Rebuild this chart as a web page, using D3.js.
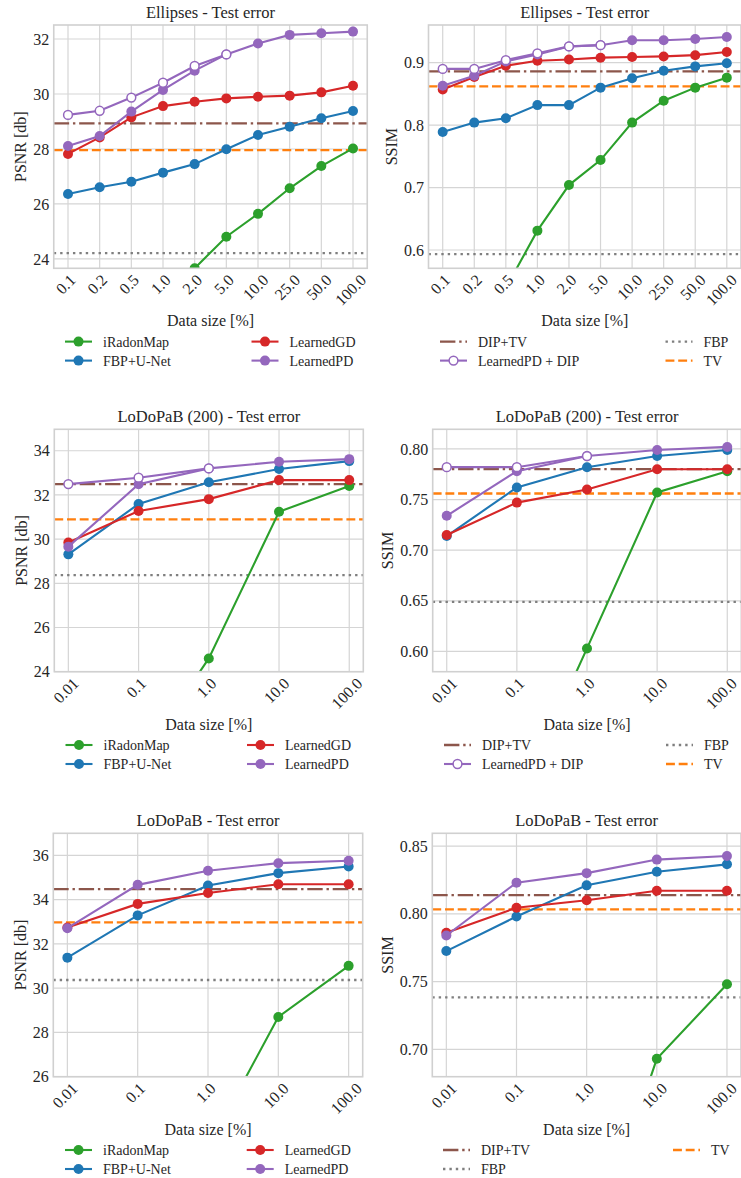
<!DOCTYPE html>
<html><head><meta charset="utf-8">
<script src="https://cdn.jsdelivr.net/npm/d3@7"></script>
<style>
body{margin:0;background:#fff}
text{font-family:"Liberation Serif","Times New Roman",serif;fill:#262626}
</style>
</head><body><svg id="chart" width="741" height="1178"></svg>
<script>
// ---------- DATA ----------
const sizesEllipses = ["0.1","0.2","0.5","1.0","2.0","5.0","10.0","25.0","50.0","100.0"];
const sizesLodopab = ["0.01","0.1","1.0","10.0","100.0"];

// Ellipses - PSNR
const ellPsnrIRadonMap = [null,null,null,null,23.66,24.81,25.64,26.57,27.38,28.02];
const ellPsnrFbpUnet   = [26.36,26.61,26.81,27.14,27.45,27.99,28.51,28.81,29.12,29.38];
const ellPsnrLearnedGD = [27.82,28.42,29.15,29.56,29.72,29.84,29.90,29.94,30.06,30.30];
const ellPsnrLearnedPD = [28.11,28.47,29.36,30.15,30.85,31.44,31.84,32.15,32.21,32.27];
const ellPsnrLpdDip    = [29.24,29.39,29.87,30.41,31.02,31.44];
const ellPsnrDipTv = 28.93, ellPsnrTv = 27.96, ellPsnrFbp = 24.21;

// Ellipses - SSIM
const ellSsimIRadonMap = [null,null,0.539,0.631,0.704,0.744,0.804,0.839,0.860,0.876];
const ellSsimFbpUnet   = [0.789,0.804,0.811,0.832,0.832,0.860,0.875,0.887,0.894,0.899];
const ellSsimLearnedGD = [0.857,0.877,0.895,0.903,0.905,0.908,0.909,0.910,0.912,0.917];
const ellSsimLearnedPD = [0.863,0.879,0.902,0.913,0.926,0.928,0.936,0.936,0.938,0.941];
const ellSsimLpdDip    = [0.890,0.890,0.904,0.915,0.926,0.928];
const ellSsimDipTv = 0.886, ellSsimTv = 0.862, ellSsimFbp = 0.5935;

// LoDoPaB (200) - PSNR
const lod200PsnrIRadonMap = [null,19.9,24.60,31.24,32.40];
const lod200PsnrFbpUnet   = [29.31,31.59,32.57,33.17,33.53];
const lod200PsnrLearnedGD = [29.85,31.27,31.81,32.67,32.67];
const lod200PsnrLearnedPD = [29.66,32.48,33.20,33.50,33.62];
const lod200PsnrLpdDip    = [32.49,32.78,33.20];
const lod200PsnrDipTv = 32.49, lod200PsnrTv = 30.89, lod200PsnrFbp = 28.37;

// LoDoPaB (200) - SSIM
const lod200SsimIRadonMap = [null,0.451,0.603,0.757,0.778];
const lod200SsimFbpUnet   = [0.714,0.762,0.782,0.793,0.799];
const lod200SsimLearnedGD = [0.715,0.747,0.760,0.780,0.780];
const lod200SsimLearnedPD = [0.734,0.778,0.793,0.799,0.802];
const lod200SsimLpdDip    = [0.782,0.782,0.793];
const lod200SsimDipTv = 0.780, lod200SsimTv = 0.756, lod200SsimFbp = 0.649;

// LoDoPaB - PSNR
const lodPsnrIRadonMap = [null,null,22.8,28.70,31.01];
const lodPsnrFbpUnet   = [31.38,33.29,34.64,35.20,35.50];
const lodPsnrLearnedGD = [32.74,33.81,34.30,34.70,34.70];
const lodPsnrLearnedPD = [32.71,34.67,35.31,35.65,35.76];
const lodPsnrDipTv = 34.48, lodPsnrTv = 32.97, lodPsnrFbp = 30.37;

// LoDoPaB - SSIM
const lodSsimIRadonMap = [null,null,0.54,0.693,0.748];
const lodSsimFbpUnet   = [0.7725,0.798,0.821,0.831,0.8365];
const lodSsimLearnedGD = [0.786,0.8045,0.810,0.817,0.817];
const lodSsimLearnedPD = [0.784,0.823,0.830,0.840,0.8426];
const lodSsimDipTv = 0.8138, lodSsimTv = 0.8033, lodSsimFbp = 0.7383;

const psnrTicks1 = [24,26,28,30,32];
const ssimTicks1 = [0.6,0.7,0.8,0.9];
const psnrTicks2 = [24,26,28,30,32,34];
const ssimTicks2 = [0.60,0.65,0.70,0.75,0.80];
const psnrTicks3 = [26,28,30,32,34,36];
const ssimTicks3 = [0.70,0.75,0.80,0.85];

// ---------- STYLE ----------
const C = {green:"#2ca02c", blue:"#1f77b4", red:"#d62728", purple:"#9467bd",
           brown:"#8c564b", orange:"#ff7f0e", gray:"#7f7f7f"};
const DASH = {dashdot:"15.4,3.8,2.4,3.8", dashed:"8.9,3.8", dotted:"2.4,4"};

const svg = d3.select("#chart");
svg.append("rect").attr("width",741).attr("height",1178).attr("fill","#fff");

function S(name, values, color, hollow){ return {name, values, color, hollow:!!hollow}; }
function H(name, value, color, dash){ return {name, value, color, dash}; }

const panels = [
 {title:"Ellipses - Test error", ylabel:"PSNR [db]", cats:sizesEllipses,
  box:[53.75,25,367.25,268.3], ydom:[23.66,32.51], yticks:psnrTicks1, fmt:d3.format(".0f"),
  series:[S("iRadonMap",ellPsnrIRadonMap,C.green),S("FBP+U-Net",ellPsnrFbpUnet,C.blue),
          S("LearnedGD",ellPsnrLearnedGD,C.red),S("LearnedPD",ellPsnrLearnedPD,C.purple),
          S("LearnedPD + DIP",ellPsnrLpdDip,C.purple,true)],
  hlines:[H("DIP+TV",ellPsnrDipTv,C.brown,"dashdot"),H("TV",ellPsnrTv,C.orange,"dashed"),H("FBP",ellPsnrFbp,C.gray,"dotted")],
  legend:[["iRadonMap","FBP+U-Net"],["LearnedGD","LearnedPD"]], legX:[65,251.5]},
 {title:"Ellipses - Test error", ylabel:"SSIM", cats:sizesEllipses,
  box:[428.5,25,741,268.3], ydom:[0.5707,0.9603], yticks:ssimTicks1, fmt:d3.format(".1f"),
  series:[S("iRadonMap",ellSsimIRadonMap,C.green),S("FBP+U-Net",ellSsimFbpUnet,C.blue),
          S("LearnedGD",ellSsimLearnedGD,C.red),S("LearnedPD",ellSsimLearnedPD,C.purple),
          S("LearnedPD + DIP",ellSsimLpdDip,C.purple,true)],
  hlines:[H("DIP+TV",ellSsimDipTv,C.brown,"dashdot"),H("TV",ellSsimTv,C.orange,"dashed"),H("FBP",ellSsimFbp,C.gray,"dotted")],
  legend:[["DIP+TV","LearnedPD + DIP"],["FBP","TV"]], legX:[440,665.5]},
 {title:"LoDoPaB (200) - Test error", ylabel:"PSNR [db]", cats:sizesLodopab,
  box:[54.3,429.3,363.3,671.7], ydom:[24,34.97], yticks:psnrTicks2, fmt:d3.format(".0f"),
  series:[S("iRadonMap",lod200PsnrIRadonMap,C.green),S("FBP+U-Net",lod200PsnrFbpUnet,C.blue),
          S("LearnedGD",lod200PsnrLearnedGD,C.red),S("LearnedPD",lod200PsnrLearnedPD,C.purple),
          S("LearnedPD + DIP",lod200PsnrLpdDip,C.purple,true)],
  hlines:[H("DIP+TV",lod200PsnrDipTv,C.brown,"dashdot"),H("TV",lod200PsnrTv,C.orange,"dashed"),H("FBP",lod200PsnrFbp,C.gray,"dotted")],
  legend:[["iRadonMap","FBP+U-Net"],["LearnedGD","LearnedPD"]], legX:[65.5,247]},
 {title:"LoDoPaB (200) - Test error", ylabel:"SSIM", cats:sizesLodopab,
  box:[432.7,429.3,741.3,671.7], ydom:[0.58,0.8194], yticks:ssimTicks2, fmt:d3.format(".2f"),
  series:[S("iRadonMap",lod200SsimIRadonMap,C.green),S("FBP+U-Net",lod200SsimFbpUnet,C.blue),
          S("LearnedGD",lod200SsimLearnedGD,C.red),S("LearnedPD",lod200SsimLearnedPD,C.purple),
          S("LearnedPD + DIP",lod200SsimLpdDip,C.purple,true)],
  hlines:[H("DIP+TV",lod200SsimDipTv,C.brown,"dashdot"),H("TV",lod200SsimTv,C.orange,"dashed"),H("FBP",lod200SsimFbp,C.gray,"dotted")],
  legend:[["DIP+TV","LearnedPD + DIP"],["FBP","TV"]], legX:[444,666]},
 {title:"LoDoPaB - Test error", ylabel:"PSNR [db]", cats:sizesLodopab,
  box:[53.3,833.3,362.7,1076.7], ydom:[26,37], yticks:psnrTicks3, fmt:d3.format(".0f"),
  series:[S("iRadonMap",lodPsnrIRadonMap,C.green),S("FBP+U-Net",lodPsnrFbpUnet,C.blue),
          S("LearnedGD",lodPsnrLearnedGD,C.red),S("LearnedPD",lodPsnrLearnedPD,C.purple)],
  hlines:[H("DIP+TV",lodPsnrDipTv,C.brown,"dashdot"),H("TV",lodPsnrTv,C.orange,"dashed"),H("FBP",lodPsnrFbp,C.gray,"dotted")],
  legend:[["iRadonMap","FBP+U-Net"],["LearnedGD","LearnedPD"]], legX:[65,246.7]},
 {title:"LoDoPaB - Test error", ylabel:"SSIM", cats:sizesLodopab,
  box:[432.3,833.3,741,1076.7], ydom:[0.6798,0.8594], yticks:ssimTicks3, fmt:d3.format(".2f"),
  series:[S("iRadonMap",lodSsimIRadonMap,C.green),S("FBP+U-Net",lodSsimFbpUnet,C.blue),
          S("LearnedGD",lodSsimLearnedGD,C.red),S("LearnedPD",lodSsimLearnedPD,C.purple)],
  hlines:[H("DIP+TV",lodSsimDipTv,C.brown,"dashdot"),H("TV",lodSsimTv,C.orange,"dashed"),H("FBP",lodSsimFbp,C.gray,"dotted")],
  legend:[["DIP+TV","FBP"],["TV"]], legX:[443,673]}
];

const LW = 2.1, HLW = 2.3, R = 5;

panels.forEach((p, pi) => {
  const [x0,y0,x1,y1] = p.box;
  const n = p.cats.length;
  const x = d3.scalePoint().domain(p.cats).range([x0,x1]).padding(0.05*(n-1));
  const y = d3.scaleLinear().domain(p.ydom).range([y1,y0]);
  const g = svg.append("g");
  const clipId = "clip"+pi;
  g.append("clipPath").attr("id",clipId).append("rect")
    .attr("x",x0).attr("y",y0).attr("width",x1-x0).attr("height",y1-y0);

  // grid
  const grid = g.append("g").attr("stroke","#d5d5d5").attr("stroke-width",1.2);
  p.cats.forEach(c => grid.append("line").attr("x1",x(c)).attr("x2",x(c)).attr("y1",y0).attr("y2",y1));
  p.yticks.forEach(t => grid.append("line").attr("x1",x0).attr("x2",x1).attr("y1",y(t)).attr("y2",y(t)));

  // y tick labels
  let maxW = 0;
  p.yticks.forEach(t => {
    const tx = g.append("text").attr("x",x0-4.5).attr("y",y(t)).attr("dy","0.35em")
      .attr("text-anchor","end").style("font-size","16px").text(p.fmt(t));
    maxW = Math.max(maxW, tx.node().getComputedTextLength());
  });
  // x tick labels rotated
  p.cats.forEach(c => {
    const t = g.append("text").attr("text-anchor","middle").attr("dy","0.35em")
      .style("font-size","16px").text(c);
    const w = t.node().getComputedTextLength();
    const off = (w + 11)/(2*Math.SQRT2);
    let cx = x(c) - 2.5;
    const cy = y1 + 5 + off;
    t.attr("transform",`translate(${cx},${cy}) rotate(-45)`);
    const bb = t.node().getBoundingClientRect();
    if (bb.right > 740) {
      cx -= (bb.right - 740);
      t.attr("transform",`translate(${cx},${cy}) rotate(-45)`);
    }
  });

  // plot content (clipped)
  const content = g.append("g").attr("clip-path",`url(#${clipId})`);
  p.hlines.forEach(h => {
    content.append("line").attr("x1",x0).attr("x2",x1).attr("y1",y(h.value)).attr("y2",y(h.value))
      .attr("stroke",h.color).attr("stroke-width",HLW).attr("stroke-dasharray",DASH[h.dash]);
  });
  const line = d3.line().defined(d => d.v !== null).x(d => x(d.c)).y(d => y(d.v));
  p.series.forEach(s => {
    const pts = s.values.map((v,i) => ({c:p.cats[i], v}));
    content.append("path").datum(pts).attr("d",line).attr("fill","none")
      .attr("stroke",s.color).attr("stroke-width",LW);
    content.selectAll(null).data(pts.filter(d => d.v !== null)).enter().append("circle")
      .attr("cx",d => x(d.c)).attr("cy",d => y(d.v)).attr("r", s.hollow ? R-0.6 : R)
      .attr("fill", s.hollow ? "#fff" : s.color)
      .attr("stroke", s.color).attr("stroke-width", s.hollow ? 1.5 : 0);
  });

  // spines
  g.append("rect").attr("x",x0).attr("y",y0).attr("width",x1-x0).attr("height",y1-y0)
    .attr("fill","none").attr("stroke","#d0d0d0").attr("stroke-width",1.6);

  // title and labels
  g.append("text").attr("x",(x0+x1)/2).attr("y",y0-7).attr("text-anchor","middle")
    .style("font-size","16.5px").text(p.title);
  g.append("text").attr("x",(x0+x1)/2).attr("y",y1+58).attr("text-anchor","middle")
    .style("font-size","16px").text("Data size [%]");
  const lx = x0 - 4.5 - maxW - 12.5;
  g.append("text").attr("transform",`translate(${lx},${(y0+y1)/2}) rotate(-90)`)
    .attr("text-anchor","middle").attr("dy","0.35em").style("font-size","16px").text(p.ylabel);

  // legend
  const all = {};
  p.series.forEach(s => all[s.name] = {type:"series", s});
  p.hlines.forEach(h => all[h.name] = {type:"h", h});
  p.legend.forEach((col, ci) => {
    col.forEach((name, ri) => {
      const ly = y1 + 73.3 + ri*19;
      const hx = p.legX[ci];
      const it = all[name];
      if (it.type === "series") {
        g.append("line").attr("x1",hx).attr("x2",hx+27).attr("y1",ly).attr("y2",ly)
          .attr("stroke",it.s.color).attr("stroke-width",LW);
        g.append("circle").attr("cx",hx+13.5).attr("cy",ly).attr("r", it.s.hollow ? R-0.6 : R)
          .attr("fill", it.s.hollow ? "#fff" : it.s.color)
          .attr("stroke", it.s.color).attr("stroke-width", it.s.hollow ? 1.5 : 0);
      } else {
        g.append("line").attr("x1",hx).attr("x2",hx+27).attr("y1",ly).attr("y2",ly)
          .attr("stroke",it.h.color).attr("stroke-width",HLW).attr("stroke-dasharray",DASH[it.h.dash]);
      }
      g.append("text").attr("x",hx+38).attr("y",ly).attr("dy","0.35em")
        .style("font-size","14px").text(name);
    });
  });
});
</script>
</body></html>
